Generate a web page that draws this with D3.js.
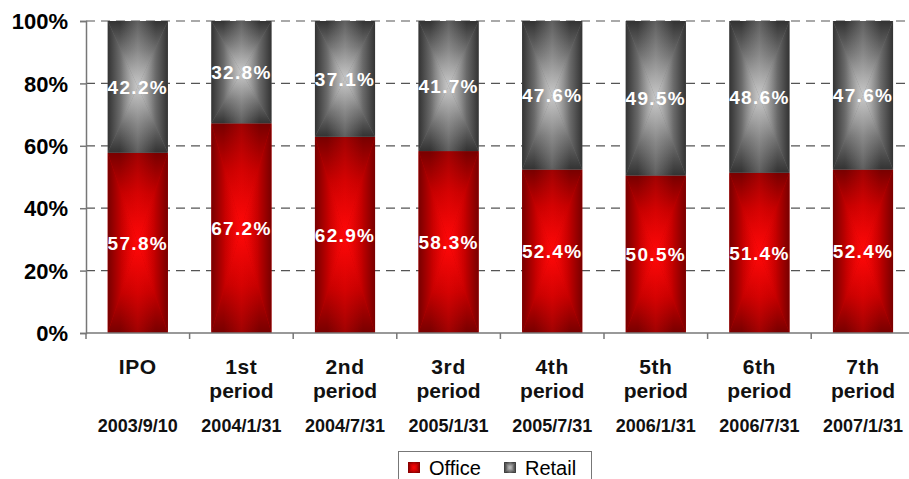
<!DOCTYPE html>
<html>
<head>
<meta charset="utf-8">
<script src="https://cdn.jsdelivr.net/npm/d3@7"></script>
<style>
  html, body { margin: 0; padding: 0; background: #fff; }
  svg { display: block; }
  svg text { font-family: "Liberation Sans", Arial, sans-serif; }
</style>
</head>
<body>
<svg id="chart" width="909" height="479"></svg>
<script>
// Portfolio mix by period: office vs retail share (%)
const periods   = ["IPO", "1st period", "2nd period", "3rd period", "4th period", "5th period", "6th period", "7th period"];
const periodTop = ["IPO", "1st", "2nd", "3rd", "4th", "5th", "6th", "7th"];
const periodSub = ["", "period", "period", "period", "period", "period", "period", "period"];
const dates     = ["2003/9/10", "2004/1/31", "2004/7/31", "2005/1/31", "2005/7/31", "2006/1/31", "2006/7/31", "2007/1/31"];
const office    = [57.8, 67.2, 62.9, 58.3, 52.4, 50.5, 51.4, 52.4];
const retail    = [42.2, 32.8, 37.1, 41.7, 47.6, 49.5, 48.6, 47.6];
const seriesNames = ["Office", "Retail"];
const yTicks    = [0, 20, 40, 60, 80, 100];

const svg = d3.select("#chart");
const plotLeft = 86, plotTop = 21, plotBottom = 333, step = 103.6;
const plotRight = plotLeft + step * periods.length;

const x = d3.scaleBand().domain(periods).range([plotLeft, plotRight]).padding(0);
const y = d3.scaleLinear().domain([0, 100]).range([plotBottom, plotTop]);
const barW = x.bandwidth() * 0.58;

// "from centre" rectangular gradients: four triangles, each fading edge -> centre
const palettes = {
  Office: { edge: "#780000", mid: "#c40000", centre: "#ff0808" },
  Retail: { edge: "#333333", mid: "#707070", centre: "#c8c8c8" }
};
const defs = svg.append("defs");
const sides = {
  top:    { x1: 0, y1: 0, x2: 0, y2: 1 },
  bottom: { x1: 0, y1: 1, x2: 0, y2: 0 },
  left:   { x1: 0, y1: 0, x2: 1, y2: 0 },
  right:  { x1: 1, y1: 0, x2: 0, y2: 0 }
};
seriesNames.forEach(name => {
  const p = palettes[name];
  Object.entries(sides).forEach(([side, v]) => {
    const g = defs.append("linearGradient").attr("id", `g-${name}-${side}`)
      .attr("x1", v.x1).attr("y1", v.y1).attr("x2", v.x2).attr("y2", v.y2);
    g.append("stop").attr("offset", 0).attr("stop-color", p.edge);
    g.append("stop").attr("offset", 0.45).attr("stop-color", p.mid);
    g.append("stop").attr("offset", 1).attr("stop-color", p.centre);
  });
  // soft vertical streak down the middle of each bar
  const s = defs.append("linearGradient").attr("id", `g-${name}-streak`)
    .attr("x1", 0).attr("y1", 0).attr("x2", 1).attr("y2", 0);
  s.append("stop").attr("offset", 0.2).attr("stop-color", p.centre).attr("stop-opacity", 0);
  s.append("stop").attr("offset", 0.5).attr("stop-color", p.centre).attr("stop-opacity", 0.3);
  s.append("stop").attr("offset", 0.8).attr("stop-color", p.centre).attr("stop-opacity", 0);
});

function paintRect(sel, name, x0, y0, w, h) {
  const cx = x0 + w / 2, cy = y0 + h / 2;
  const tris = {
    top:    [[x0, y0], [x0 + w, y0], [cx, cy]],
    bottom: [[x0, y0 + h], [x0 + w, y0 + h], [cx, cy]],
    left:   [[x0, y0], [x0, y0 + h], [cx, cy]],
    right:  [[x0 + w, y0], [x0 + w, y0 + h], [cx, cy]]
  };
  sel.append("rect").attr("x", x0).attr("y", y0).attr("width", w).attr("height", h)
    .attr("fill", palettes[name].mid);
  Object.entries(tris).forEach(([side, pts]) => {
    sel.append("polygon")
      .attr("points", pts.map(p => p.join(",")).join(" "))
      .attr("fill", `url(#g-${name}-${side})`);
  });
  sel.append("rect").attr("x", x0).attr("y", y0).attr("width", w).attr("height", h)
    .attr("fill", `url(#g-${name}-streak)`);
}

// gridlines
svg.append("g").selectAll("line").data(yTicks.filter(t => t > 0)).join("line")
  .attr("x1", plotLeft).attr("x2", 909)
  .attr("y1", d => y(d)).attr("y2", d => y(d))
  .attr("stroke", "#555").attr("stroke-width", 1.2).attr("stroke-dasharray", "9,6");

// stacked bars
const rows = periods.map((p, i) => ({ period: p, Office: office[i], Retail: retail[i] }));
const stacked = d3.stack().keys(seriesNames)(rows);
const barsG = svg.append("g");
stacked.forEach(layer => {
  layer.forEach(d => {
    const x0 = x(d.data.period) + (x.bandwidth() - barW) / 2;
    const y0 = y(d[1]), h = y(d[0]) - y(d[1]);
    paintRect(barsG.append("g"), layer.key, x0, y0, barW, h);
  });
});

// value labels
const labelsG = svg.append("g");
stacked.forEach(layer => {
  labelsG.selectAll(null).data(layer).join("text")
    .attr("x", d => x(d.data.period) + x.bandwidth() / 2)
    .attr("y", d => y((d[0] + d[1]) / 2))
    .attr("dy", "0.36em")
    .attr("text-anchor", "middle")
    .attr("fill", "#fff").attr("font-weight", "bold").attr("font-size", 19)
    .attr("letter-spacing", 1.3)
    .text(d => (d[1] - d[0]).toFixed(1) + "%");
});

// y axis
const yAxis = svg.append("g").attr("transform", `translate(${plotLeft},0)`)
  .call(d3.axisLeft(y).tickValues(yTicks).tickSize(6).tickFormat(d => d + "%"));
yAxis.attr("font-family", null);
yAxis.select(".domain").attr("stroke", "#777").attr("stroke-width", 1.5);
yAxis.selectAll(".tick line").attr("stroke", "#777").attr("stroke-width", 1.5);
yAxis.selectAll(".tick text").attr("x", -18).attr("dy", "0.35em")
  .attr("font-size", 22).attr("font-weight", "bold").attr("fill", "#000");

// x axis with boundary ticks
const xAxisG = svg.append("g");
xAxisG.append("line").attr("x1", plotLeft).attr("x2", 909).attr("y1", plotBottom).attr("y2", plotBottom)
  .attr("stroke", "#777").attr("stroke-width", 1.5);
xAxisG.selectAll("line.tk").data(periods).join("line").attr("class", "tk")
  .attr("x1", d => x(d)).attr("x2", d => x(d))
  .attr("y1", plotBottom).attr("y2", plotBottom + 6)
  .attr("stroke", "#777").attr("stroke-width", 1.5);

const catG = svg.append("g").attr("font-weight", "bold").attr("fill", "#111").attr("text-anchor", "middle");
catG.selectAll("text.top").data(periods).join("text").attr("class", "top")
  .attr("x", d => x(d) + x.bandwidth() / 2).attr("y", 374)
  .attr("font-size", 21).attr("letter-spacing", 0.6)
  .text((d, i) => periodTop[i]);
catG.selectAll("text.sub").data(periods).join("text").attr("class", "sub")
  .attr("x", d => x(d) + x.bandwidth() / 2).attr("y", 398)
  .attr("font-size", 21)
  .text((d, i) => periodSub[i]);
catG.selectAll("text.date").data(periods).join("text").attr("class", "date")
  .attr("x", d => x(d) + x.bandwidth() / 2).attr("y", 432)
  .attr("font-size", 18)
  .text((d, i) => dates[i]);

// legend
const legend = svg.append("g");
legend.append("rect").attr("x", 398.5).attr("y", 451.5).attr("width", 193).attr("height", 40)
  .attr("fill", "#fff").attr("stroke", "#777").attr("stroke-width", 1);
const legX = [408, 504];
seriesNames.forEach((name, i) => {
  const g = legend.append("g");
  paintRect(g, name, legX[i], 462, 12, 11);
  legend.append("text").attr("x", legX[i] + 21).attr("y", 475)
    .attr("font-size", 20).attr("fill", "#000").text(name);
});
</script>
</body>
</html>
